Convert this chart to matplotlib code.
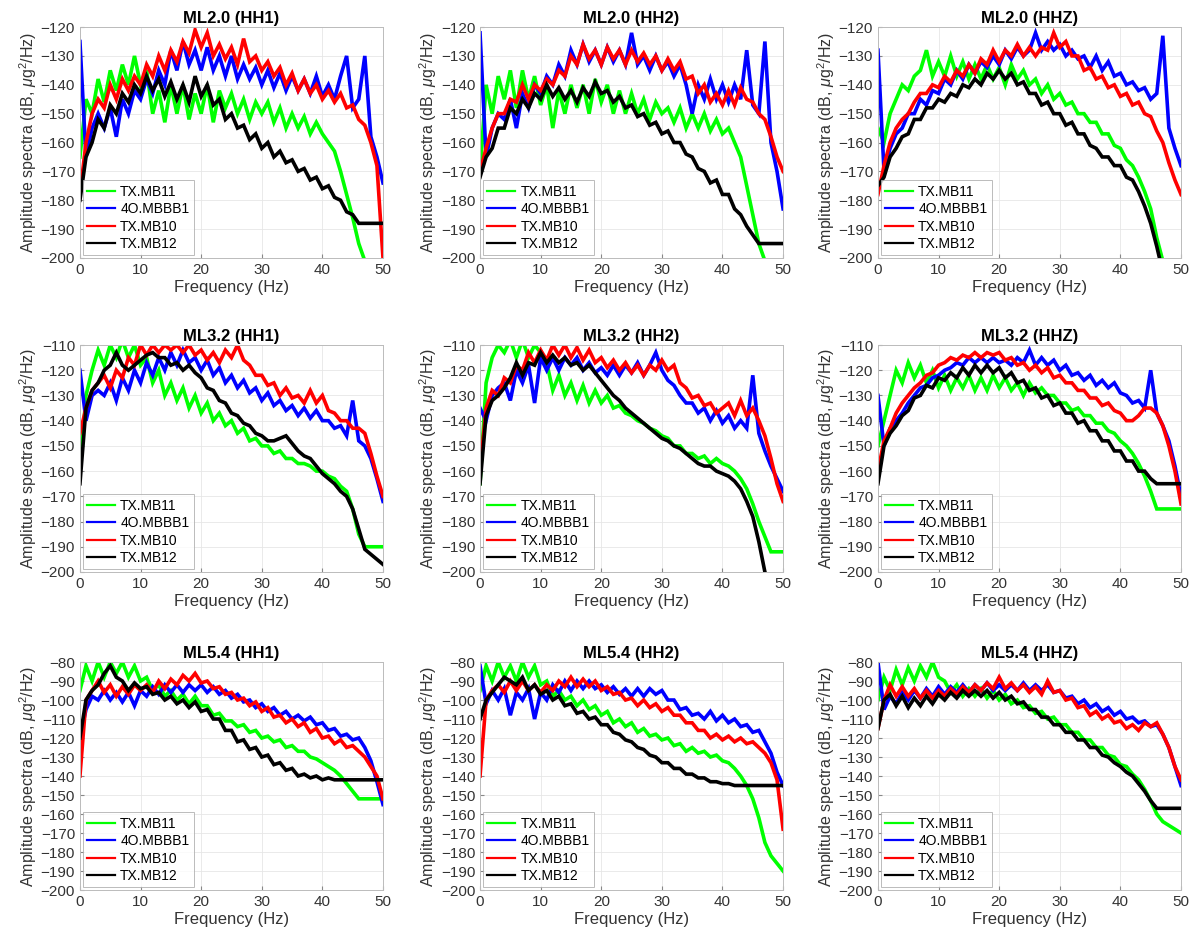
import numpy as np
import matplotlib.pyplot as plt

plt.rcParams['font.family'] = ['Liberation Sans', 'DejaVu Sans']
plt.rcParams['mathtext.fontset'] = 'custom'
plt.rcParams['mathtext.rm'] = 'Liberation Sans'
plt.rcParams['mathtext.it'] = 'Liberation Sans:italic'

# frequency axis, 1 Hz spacing
freq = np.arange(51)

stations = ['TX.MB11', '4O.MBBB1', 'TX.MB10', 'TX.MB12']
colors = ['#00ff00', '#0000ff', '#ff0000', '#000000']

# ---- ML2.0 ----
ml20_hh1_mb11 = [-165, -145, -150, -138, -146, -135, -142, -133, -140, -130, -140, -135, -150, -142, -153, -140, -150, -140, -152, -143,
                 -150, -140, -153, -142, -148, -143, -150, -145, -152, -146, -150, -146, -153, -148, -155, -150, -155, -151, -157, -153,
                 -157, -160, -163, -170, -178, -186, -195, -201, -201, -201, -201]
ml20_hh1_mbbb1 = [-125, -165, -155, -150, -155, -148, -158, -145, -150, -142, -145, -138, -143, -135, -140, -128, -135, -125, -133, -128,
                  -135, -127, -135, -130, -137, -130, -138, -133, -138, -134, -140, -135, -141, -136, -142, -137, -142, -138, -143, -137,
                  -144, -140, -145, -137, -130, -148, -145, -130, -158, -165, -174]
ml20_hh1_mb10 = [-178, -160, -150, -145, -148, -140, -145, -138, -142, -137, -140, -133, -137, -130, -135, -128, -132, -125, -129, -121,
                 -127, -122, -130, -126, -131, -127, -133, -124, -132, -130, -135, -132, -137, -134, -140, -136, -142, -138, -143, -140,
                 -145, -142, -146, -143, -148, -147, -152, -154, -160, -168, -200]
ml20_hh1_mb12 = [-180, -165, -160, -152, -155, -147, -150, -143, -146, -140, -143, -137, -142, -138, -144, -139, -145, -140, -146, -137,
                 -144, -140, -147, -145, -152, -150, -155, -154, -159, -157, -162, -160, -165, -163, -167, -166, -170, -169, -173, -172,
                 -176, -175, -179, -180, -184, -185, -188, -188, -188, -188, -188]

ml20_hh2_mb11 = [-170, -140, -150, -137, -145, -135, -148, -135, -145, -137, -147, -140, -155, -142, -150, -140, -148, -140, -150, -138,
                 -146, -140, -150, -142, -150, -143, -150, -145, -152, -146, -150, -148, -153, -148, -155, -150, -155, -150, -156, -152,
                 -157, -155, -160, -165, -175, -185, -195, -201, -201, -201, -201]
ml20_hh2_mbbb1 = [-122, -165, -155, -150, -152, -145, -155, -143, -148, -140, -143, -137, -140, -133, -137, -128, -133, -126, -132, -128,
                  -133, -127, -132, -128, -133, -122, -133, -130, -135, -130, -135, -132, -137, -133, -140, -150, -140, -145, -138, -145,
                  -140, -146, -140, -145, -128, -147, -150, -125, -160, -170, -183]
ml20_hh2_mb10 = [-170, -162, -155, -150, -150, -145, -146, -140, -145, -140, -142, -138, -140, -135, -137, -130, -133, -126, -131, -128,
                 -133, -127, -131, -128, -133, -128, -132, -129, -133, -130, -135, -131, -135, -132, -138, -137, -143, -140, -146, -143,
                 -147, -142, -147, -141, -145, -146, -150, -152, -158, -165, -170]
ml20_hh2_mb12 = [-172, -165, -162, -155, -155, -148, -150, -145, -148, -143, -145, -140, -144, -141, -145, -142, -146, -141, -144, -139,
                 -143, -142, -146, -144, -148, -147, -151, -150, -154, -153, -157, -156, -160, -160, -164, -165, -169, -170, -174, -173,
                 -178, -178, -183, -185, -189, -192, -195, -195, -195, -195, -195]

ml20_hhz_mb11 = [-155, -160, -150, -145, -140, -142, -137, -135, -128, -137, -132, -137, -130, -137, -132, -138, -133, -138, -133, -138,
                 -134, -140, -133, -138, -135, -140, -138, -143, -140, -145, -143, -147, -146, -150, -150, -153, -153, -157, -157, -161,
                 -162, -166, -168, -172, -177, -183, -193, -201, -201, -201, -201]
ml20_hhz_mbbb1 = [-128, -170, -162, -157, -155, -150, -150, -145, -147, -142, -143, -138, -140, -135, -138, -133, -136, -132, -134, -130,
                  -133, -128, -131, -127, -130, -128, -122, -128, -125, -128, -126, -130, -128, -131, -130, -134, -130, -135, -132, -137,
                  -136, -140, -139, -142, -141, -145, -143, -123, -155, -162, -168]
ml20_hhz_mb10 = [-178, -168, -160, -155, -152, -150, -146, -143, -143, -140, -141, -137, -139, -135, -137, -133, -136, -131, -133, -128,
                 -132, -128, -130, -126, -130, -127, -130, -127, -128, -122, -127, -125, -130, -130, -135, -134, -138, -137, -141, -140,
                 -144, -143, -147, -146, -150, -151, -156, -160, -167, -173, -178]
ml20_hhz_mb12 = [-175, -172, -165, -162, -158, -157, -152, -152, -148, -148, -145, -146, -143, -144, -140, -141, -138, -140, -136, -138,
                 -135, -138, -136, -140, -139, -143, -143, -147, -146, -150, -150, -154, -153, -157, -157, -161, -162, -165, -165, -168,
                 -168, -172, -173, -177, -182, -188, -196, -205, -205, -205, -205]

# ---- ML3.2 ----
ml32_hh1_mb11 = [-160, -130, -120, -112, -118, -110, -115, -108, -115, -110, -118, -115, -125, -120, -130, -125, -132, -127, -135, -130,
                 -137, -133, -140, -137, -142, -140, -145, -143, -148, -147, -150, -150, -153, -152, -155, -155, -157, -157, -158, -160,
                 -160, -162, -163, -166, -168, -175, -185, -190, -190, -190, -190]
ml32_hh1_mbbb1 = [-120, -140, -130, -128, -130, -125, -132, -123, -128, -120, -125, -117, -122, -115, -120, -113, -118, -112, -117, -115,
                  -120, -116, -122, -119, -125, -122, -127, -124, -129, -127, -132, -129, -134, -132, -136, -134, -138, -135, -139, -136,
                  -140, -140, -143, -142, -146, -132, -148, -150, -155, -163, -172]
ml32_hh1_mb10 = [-145, -135, -128, -125, -122, -127, -120, -123, -115, -118, -110, -114, -110, -113, -110, -112, -110, -113, -110, -114,
                 -112, -116, -113, -117, -112, -115, -110, -116, -118, -122, -122, -126, -125, -130, -127, -131, -130, -133, -128, -133,
                 -130, -136, -137, -140, -140, -143, -143, -145, -153, -162, -170]
ml32_hh1_mb12 = [-165, -135, -128, -125, -120, -118, -113, -118, -120, -118, -116, -114, -113, -115, -115, -118, -117, -120, -118, -121,
                 -123, -127, -128, -132, -133, -137, -138, -141, -142, -145, -146, -148, -148, -147, -146, -149, -152, -154, -155, -158,
                 -161, -163, -165, -168, -170, -175, -183, -191, -193, -195, -197]

ml32_hh2_mb11 = [-165, -125, -115, -110, -113, -108, -115, -108, -115, -110, -113, -117, -128, -122, -130, -125, -132, -126, -133, -128,
                 -133, -130, -135, -134, -137, -138, -140, -141, -143, -144, -146, -147, -150, -150, -153, -153, -155, -154, -157, -155,
                 -157, -158, -160, -163, -167, -173, -180, -186, -192, -192, -192]
ml32_hh2_mbbb1 = [-135, -140, -130, -127, -125, -132, -120, -125, -118, -133, -115, -120, -115, -120, -115, -118, -115, -120, -117, -121,
                  -119, -122, -118, -122, -118, -121, -117, -122, -118, -113, -120, -124, -126, -130, -133, -133, -137, -135, -140, -136,
                  -141, -138, -143, -140, -143, -122, -145, -152, -158, -163, -168]
ml32_hh2_mb10 = [-160, -135, -128, -130, -123, -125, -118, -120, -113, -117, -112, -116, -110, -114, -110, -115, -111, -116, -112, -117,
                 -115, -119, -116, -120, -117, -121, -118, -122, -118, -120, -116, -120, -118, -125, -127, -131, -130, -134, -133, -137,
                 -135, -133, -138, -132, -138, -135, -140, -146, -155, -165, -172]
ml32_hh2_mb12 = [-165, -138, -132, -130, -127, -123, -117, -122, -117, -118, -113, -117, -114, -117, -115, -118, -117, -120, -118, -121,
                 -124, -127, -130, -132, -135, -137, -139, -141, -143, -145, -147, -148, -150, -151, -153, -155, -157, -158, -158, -160,
                 -161, -162, -164, -167, -172, -178, -188, -200, -205, -205, -205]

ml32_hhz_mb11 = [-150, -140, -130, -120, -125, -117, -123, -118, -125, -120, -127, -122, -128, -123, -127, -122, -128, -123, -128, -122,
                 -127, -123, -128, -125, -130, -125, -129, -127, -130, -130, -133, -133, -136, -135, -138, -138, -141, -141, -144, -145,
                 -148, -150, -153, -157, -162, -168, -175, -175, -175, -175, -175]
ml32_hhz_mbbb1 = [-130, -150, -143, -140, -137, -133, -130, -127, -126, -123, -122, -120, -119, -117, -118, -115, -117, -115, -117, -115,
                  -117, -116, -118, -115, -117, -112, -118, -115, -118, -116, -120, -118, -122, -121, -124, -122, -126, -124, -127, -125,
                  -129, -130, -133, -132, -135, -120, -137, -142, -148, -158, -170]
ml32_hhz_mb10 = [-160, -148, -143, -137, -133, -130, -127, -125, -122, -121, -118, -117, -115, -116, -114, -115, -113, -115, -113, -114,
                 -113, -116, -115, -118, -117, -120, -118, -121, -119, -123, -122, -125, -125, -128, -128, -131, -131, -134, -133, -136,
                 -137, -140, -140, -138, -135, -135, -137, -142, -150, -160, -173]
ml32_hhz_mb12 = [-165, -150, -145, -142, -138, -136, -131, -130, -126, -127, -123, -124, -121, -123, -119, -122, -118, -121, -118, -121,
                 -119, -123, -121, -125, -124, -128, -127, -131, -130, -134, -133, -137, -137, -141, -140, -144, -144, -148, -148, -152,
                 -152, -156, -156, -160, -160, -163, -165, -165, -165, -165, -165]

# ---- ML5.4 ----
ml54_hh1_mb11 = [-95, -82, -90, -80, -88, -80, -86, -80, -88, -82, -90, -88, -95, -92, -98, -95, -100, -97, -102, -98,
                 -103, -103, -108, -107, -111, -111, -114, -113, -117, -116, -120, -119, -122, -121, -125, -124, -127, -127, -130, -131,
                 -133, -135, -137, -140, -144, -148, -152, -152, -152, -152, -152]
ml54_hh1_mbbb1 = [-120, -105, -98, -100, -95, -100, -96, -101, -96, -103, -95, -98, -93, -97, -92, -96, -92, -96, -92, -95,
                  -92, -96, -93, -97, -95, -99, -97, -101, -100, -104, -102, -106, -104, -108, -106, -110, -108, -111, -109, -113,
                  -112, -116, -115, -119, -118, -121, -120, -125, -132, -143, -155]
ml54_hh1_mb10 = [-140, -100, -95, -90, -96, -92, -98, -93, -97, -92, -95, -92, -96, -90, -94, -89, -92, -87, -90, -86,
                 -91, -90, -94, -93, -97, -96, -100, -99, -103, -101, -106, -104, -109, -108, -112, -110, -114, -112, -117, -115,
                 -120, -119, -123, -121, -125, -124, -127, -130, -135, -140, -152]
ml54_hh1_mb12 = [-120, -100, -95, -92, -86, -82, -88, -90, -95, -91, -94, -93, -97, -96, -100, -98, -102, -100, -104, -101,
                 -106, -105, -110, -110, -116, -116, -122, -121, -126, -125, -130, -129, -134, -133, -137, -136, -140, -139, -141, -140,
                 -142, -141, -142, -142, -142, -142, -142, -142, -142, -142, -142]

ml54_hh2_mb11 = [-95, -82, -90, -80, -88, -82, -90, -80, -88, -82, -92, -90, -98, -95, -100, -98, -103, -100, -105, -103,
                 -108, -106, -112, -110, -114, -112, -117, -115, -119, -118, -121, -120, -124, -123, -127, -125, -128, -127, -130, -129,
                 -132, -133, -136, -140, -145, -152, -162, -175, -182, -186, -190]
ml54_hh2_mbbb1 = [-82, -102, -95, -100, -94, -108, -96, -100, -94, -110, -96, -100, -92, -96, -90, -95, -90, -94, -90, -94,
                  -92, -96, -93, -97, -94, -98, -94, -98, -94, -97, -95, -100, -100, -105, -104, -108, -107, -110, -106, -111,
                  -108, -112, -110, -114, -113, -117, -116, -122, -128, -138, -145]
ml54_hh2_mb10 = [-140, -100, -95, -92, -96, -90, -95, -90, -95, -92, -96, -92, -95, -90, -93, -88, -93, -89, -93, -90,
                 -95, -93, -97, -96, -100, -99, -103, -100, -104, -102, -106, -104, -108, -108, -112, -112, -116, -116, -120, -118,
                 -121, -119, -122, -120, -123, -122, -125, -128, -133, -142, -168]
ml54_hh2_mb12 = [-110, -100, -96, -92, -88, -90, -92, -88, -95, -92, -97, -95, -100, -98, -103, -102, -107, -106, -110, -109,
                 -113, -113, -117, -118, -121, -122, -125, -126, -129, -130, -133, -133, -136, -136, -139, -139, -141, -141, -143, -143,
                 -144, -144, -145, -145, -145, -145, -145, -145, -145, -145, -145]

ml54_hhz_mb11 = [-100, -88, -95, -84, -92, -83, -90, -82, -88, -80, -88, -90, -96, -92, -98, -94, -98, -94, -99, -95,
                 -100, -97, -102, -100, -104, -103, -107, -106, -110, -109, -113, -113, -117, -117, -121, -121, -125, -125, -129, -130,
                 -134, -135, -139, -142, -147, -153, -160, -164, -166, -168, -170]
ml54_hhz_mbbb1 = [-80, -105, -98, -102, -96, -100, -95, -99, -94, -98, -93, -97, -93, -96, -92, -96, -92, -95, -91, -95,
                  -92, -95, -92, -95, -91, -95, -92, -95, -92, -96, -95, -99, -98, -102, -100, -104, -102, -106, -104, -108,
                  -106, -110, -109, -112, -111, -114, -113, -118, -125, -135, -145]
ml54_hhz_mb10 = [-115, -100, -92, -98, -93, -98, -94, -99, -95, -99, -95, -98, -94, -97, -93, -96, -92, -95, -91, -94,
                 -88, -94, -91, -95, -92, -96, -93, -97, -90, -96, -95, -100, -99, -104, -103, -108, -106, -110, -108, -112,
                 -111, -115, -113, -116, -112, -114, -112, -118, -125, -135, -142]
ml54_hhz_mb12 = [-115, -100, -97, -103, -98, -104, -99, -103, -98, -102, -97, -100, -96, -99, -95, -98, -95, -98, -95, -99,
                 -96, -100, -98, -102, -101, -105, -105, -109, -109, -113, -113, -117, -117, -121, -121, -125, -125, -129, -130, -133,
                 -135, -138, -140, -144, -148, -153, -157, -157, -157, -157, -157]

titles = ['ML2.0 (HH1)', 'ML2.0 (HH2)', 'ML2.0 (HHZ)',
          'ML3.2 (HH1)', 'ML3.2 (HH2)', 'ML3.2 (HHZ)',
          'ML5.4 (HH1)', 'ML5.4 (HH2)', 'ML5.4 (HHZ)']
row_ytop = [-120, -110, -80]

spectra = [
    [ml20_hh1_mb11, ml20_hh1_mbbb1, ml20_hh1_mb10, ml20_hh1_mb12],
    [ml20_hh2_mb11, ml20_hh2_mbbb1, ml20_hh2_mb10, ml20_hh2_mb12],
    [ml20_hhz_mb11, ml20_hhz_mbbb1, ml20_hhz_mb10, ml20_hhz_mb12],
    [ml32_hh1_mb11, ml32_hh1_mbbb1, ml32_hh1_mb10, ml32_hh1_mb12],
    [ml32_hh2_mb11, ml32_hh2_mbbb1, ml32_hh2_mb10, ml32_hh2_mb12],
    [ml32_hhz_mb11, ml32_hhz_mbbb1, ml32_hhz_mb10, ml32_hhz_mb12],
    [ml54_hh1_mb11, ml54_hh1_mbbb1, ml54_hh1_mb10, ml54_hh1_mb12],
    [ml54_hh2_mb11, ml54_hh2_mbbb1, ml54_hh2_mb10, ml54_hh2_mb12],
    [ml54_hhz_mb11, ml54_hhz_mbbb1, ml54_hhz_mb10, ml54_hhz_mb12],
]

fig = plt.figure(figsize=(12.04, 9.34), dpi=100)

lefts = [0.0664, 0.3987, 0.7292]
bottoms = [0.7238, 0.3876, 0.0471]
heights = [0.2472, 0.2430, 0.2441]
width = 0.2517

for k in range(9):
    r, c = divmod(k, 3)
    ax = fig.add_axes([lefts[c], bottoms[r], width, heights[r]])
    for y, col, name in zip(spectra[k], colors, stations):
        ax.plot(freq, y, color=col, lw=2.6, label=name, solid_joinstyle='miter')
    ax.set_xlim(0, 50)
    ax.set_ylim(-200, row_ytop[r])
    ax.set_xticks(np.arange(0, 51, 10))
    ax.set_yticks(np.arange(-200, row_ytop[r] + 1, 10))
    ax.grid(True, color='#e6e6e6', lw=0.6)
    ax.set_axisbelow(True)
    for s in ax.spines.values():
        s.set_color('#bbbbbb')
        s.set_linewidth(0.7)
    ax.tick_params(direction='in', length=3, color='#888888', labelsize=11, labelcolor='#333333')
    ax.set_title(titles[k], fontsize=12, fontweight='bold', pad=3)
    ax.set_xlabel('Frequency (Hz)', fontsize=12, color='#333333', labelpad=2)
    ax.set_ylabel(r'Amplitude spectra (dB, $\mu$g$^2$/Hz)', fontsize=11.5, color='#333333', labelpad=1)
    leg = ax.legend(loc='lower left', fontsize=10, handlelength=2.0, borderpad=0.3,
                    labelspacing=0.25, handletextpad=0.4, borderaxespad=0.2, fancybox=False)
    for ln in leg.get_lines():
        ln.set_linewidth(1.6)
    leg.get_frame().set_edgecolor('#aaaaaa')
    leg.get_frame().set_linewidth(0.7)

fig.savefig('out.png', dpi=100)
